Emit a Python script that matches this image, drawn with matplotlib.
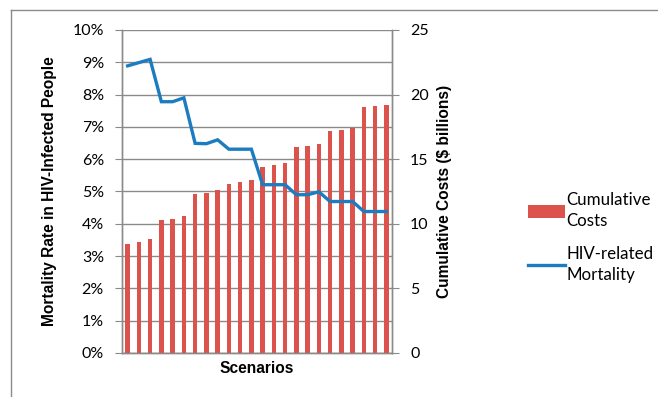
import numpy as np
import matplotlib
matplotlib.use('Agg')
import matplotlib.pyplot as plt
from matplotlib.ticker import MultipleLocator, FuncFormatter
from matplotlib.lines import Line2D

# data (24 scenarios)
scenarios = list(range(1, 25))
costs = [8.45, 8.61, 8.81, 10.28, 10.41, 10.62, 12.27, 12.40, 12.60, 13.09, 13.20, 13.38,
         14.38, 14.54, 14.72, 15.93, 16.03, 16.16, 17.19, 17.29, 17.45, 19.02, 19.10, 19.20]
mortality = [8.89, 8.99, 9.09, 7.78, 7.78, 7.90, 6.49, 6.48, 6.60, 6.31, 6.31, 6.31,
             5.21, 5.21, 5.21, 4.90, 4.90, 4.99, 4.69, 4.69, 4.69, 4.38, 4.38, 4.38]

BAR_COLOR = '#dc524c'
LINE_COLOR = '#1c7cc0'
GRID_COLOR = '#8a8a8a'

plt.rcParams['font.family'] = ['Lato', 'DejaVu Sans']
plt.rcParams['font.size'] = 11.5
BOLD = dict(family='Liberation Sans', weight='bold', size=11.2)

fig = plt.figure(figsize=(6.58, 3.97), dpi=100)
W, H = 658, 397
ax = fig.add_axes([122 / W, 1 - 353 / H, (392 - 122) / W, (353 - 30) / H])
ax2 = ax.twinx()

x = np.arange(len(scenarios))

# bars on the cost axis (right), drawn below the line
bars = ax2.bar(x, costs, width=0.42, color=BAR_COLOR, zorder=3)
ax2.set_ylim(0, 25)
ax2.yaxis.set_major_locator(MultipleLocator(5))
ax2.yaxis.set_minor_locator(MultipleLocator(2.5))
ax2.grid(True, which='both', axis='y', color=GRID_COLOR, linewidth=1.0, zorder=0)
ax2.set_axisbelow(True)
ax2.tick_params(axis='y', which='major', direction='out', length=5, color=GRID_COLOR, pad=8)
ax2.tick_params(axis='y', which='minor', length=0)
ax2.set_ylabel('Cumulative Costs ($ billions)', labelpad=6, fontdict=BOLD)

# mortality line on the left axis, on top
ax.set_zorder(ax2.get_zorder() + 1)
ax.patch.set_visible(False)
line, = ax.plot(x, mortality, color=LINE_COLOR, linewidth=2.4, solid_joinstyle='miter')
ax.set_ylim(0, 10)
ax.set_xlim(-0.5, len(scenarios) - 0.5)
ax.yaxis.set_major_locator(MultipleLocator(1))
ax.yaxis.set_major_formatter(FuncFormatter(lambda v, p: f'{v:.0f}%'))
ax.tick_params(axis='y', direction='out', length=5, color=GRID_COLOR, pad=8)
ax.set_xticks([])
ax.set_ylabel('Mortality Rate in HIV-Infected People', labelpad=11, fontdict=BOLD)
ax.set_xlabel('Scenarios', labelpad=6, fontdict=BOLD)

for a in (ax, ax2):
    a.spines['top'].set_visible(False)
    for s in ('left', 'right', 'bottom'):
        a.spines[s].set_color(GRID_COLOR)
        a.spines[s].set_linewidth(1.0)

# legend at the right of the plot
leg = fig.legend([bars, line], ['Cumulative\nCosts', 'HIV-related\nMortality'],
                 loc='upper left', bbox_to_anchor=(513 / W, 1 - 177 / H), frameon=False,
                 handlelength=2.15, handleheight=0.75, handletextpad=0.12,
                 labelspacing=0.95, fontsize=12.2)
for t in leg.get_texts():
    t.set_linespacing(1.4)

# chart area border
fig.add_artist(Line2D([11 / W, 11 / W], [0, 1 - 10 / H], color=GRID_COLOR, linewidth=1.0))
fig.add_artist(Line2D([11 / W, 1], [1 - 10 / H, 1 - 10 / H], color=GRID_COLOR, linewidth=1.0))

fig.savefig('out.png', dpi=100)
